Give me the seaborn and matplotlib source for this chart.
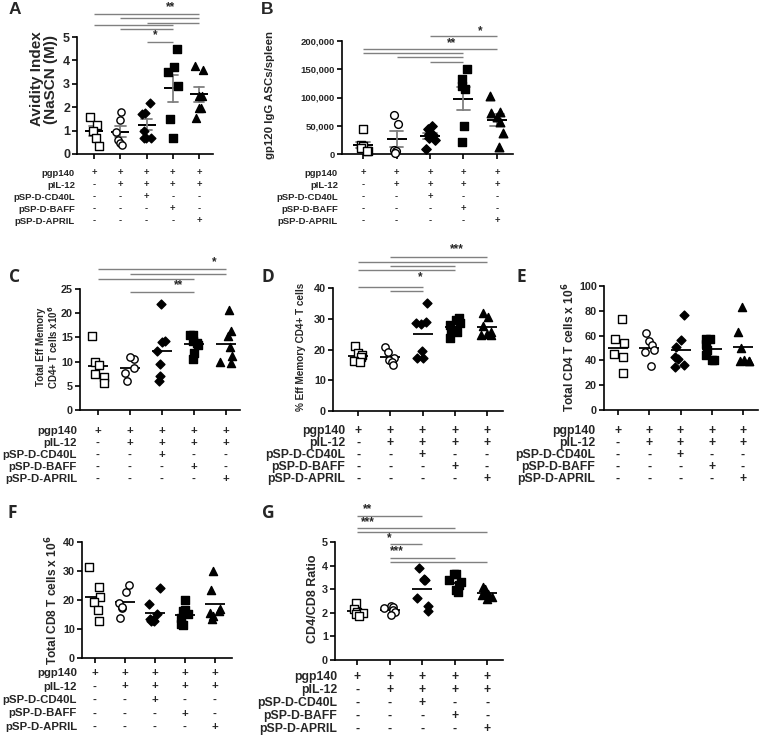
import numpy as np
import pandas as pd
import matplotlib
matplotlib.use("Agg")
import matplotlib.pyplot as plt
import matplotlib.transforms as mtransforms
import seaborn as sns
import warnings
warnings.filterwarnings("ignore")

sns.set_theme(style="ticks")
plt.rcParams['font.family'] = ['Liberation Sans', 'DejaVu Sans']
plt.rcParams['font.weight'] = 'bold'
plt.rcParams['axes.labelweight'] = 'bold'
plt.rcParams['mathtext.default'] = 'bf'

# ---------------- data ----------------
groups = ["pgp140", "pgp140+pIL-12", "+pSP-D-CD40L", "+pSP-D-BAFF", "+pSP-D-APRIL"]

table_rows = ["pgp140", "pIL-12", "pSP-D-CD40L", "pSP-D-BAFF", "pSP-D-APRIL"]
table_signs = [
    ["+", "+", "+", "+", "+"],
    ["-", "+", "+", "+", "+"],
    ["-", "-", "+", "-", "-"],
    ["-", "-", "-", "+", "-"],
    ["-", "-", "-", "-", "+"],
]

avidity_index = [
    [1.6, 1.25, 1.0, 0.7, 0.35],
    [1.8, 1.45, 0.95, 0.6, 0.45, 0.4],
    [2.2, 1.75, 1.72, 1.0, 0.7, 0.7, 0.7],
    [4.5, 3.5, 3.7, 2.9, 1.5, 0.7],
    [3.6, 3.75, 2.5, 2.5, 1.97, 1.97, 1.54],
]
asc_per_spleen = [
    [44000, 16000, 14000, 10000, 6000, 5000],
    [69000, 53000, 7000, 5000, 2000],
    [49000, 45000, 36000, 33000, 28000, 24000, 8000],
    [150000, 133000, 120000, 115000, 49000, 22000],
    [103000, 73000, 75000, 65000, 56000, 38000, 13000],
]
eff_mem_total = [
    [15.3, 10.0, 9.4, 7.5, 6.9, 5.6],
    [10.6, 10.9, 8.6, 7.6, 5.9],
    [21.8, 14.3, 14.1, 12.2, 9.6, 7.0, 6.0],
    [15.4, 15.5, 14.2, 13.9, 13.5, 11.7, 10.6],
    [20.6, 16.4, 15.2, 13.0, 11.1, 9.9, 9.8],
]
eff_mem_pct = [
    [21.3, 18.8, 18.3, 17.5, 16.3, 16.0],
    [20.8, 19.2, 17.1, 16.6, 15.8, 15.0],
    [35.0, 29.0, 28.6, 28.2, 19.6, 17.1, 17.1],
    [29.6, 30.2, 28.6, 28.0, 26.2, 25.8, 23.7],
    [32.0, 30.7, 27.5, 25.8, 24.7, 24.7, 25.0],
]
cd4_total = [
    [73.0, 54.0, 57.0, 45.5, 42.5, 30.0],
    [62.2, 55.8, 52.3, 48.3, 46.9, 35.4],
    [76.4, 56.3, 51.0, 42.4, 40.8, 36.2, 34.9],
    [57.6, 57.6, 53.6, 48.3, 44.2, 40.2, 40.2],
    [83.0, 63.0, 50.4, 40.5, 39.7, 39.7, 39.7],
]
cd8_total = [
    [31.5, 24.5, 21.0, 19.4, 16.7, 12.7],
    [22.6, 25.2, 19.1, 17.3, 17.6, 13.8],
    [24.0, 18.7, 15.2, 13.3, 13.0, 12.8, 12.7],
    [19.9, 16.7, 16.2, 15.2, 13.8, 11.7, 11.5],
    [30.1, 23.4, 17.0, 16.2, 15.5, 14.5, 13.3],
]
cd4_cd8_ratio = [
    [2.43, 2.15, 2.05, 2.0, 1.95, 1.85],
    [2.3, 2.25, 2.2, 2.1, 2.05, 1.9],
    [3.88, 3.42, 3.4, 3.4, 2.64, 2.3, 2.07],
    [3.63, 3.63, 3.39, 3.31, 3.17, 2.96, 2.89],
    [3.1, 3.0, 2.9, 2.8, 2.75, 2.65, 2.6],
]

# significance comparisons (group index pairs) and labels
sig_A = [(0, 4), (1, 4), (2, 4), (0, 3), (1, 3), (2, 3)]
stars_A = ["**", "*"]
sig_B = [(2, 4), (0, 4), (0, 3), (1, 3), (2, 3)]
stars_B = ["*", "**"]
sig_C = [(0, 4), (1, 4), (0, 3), (1, 3)]
stars_C = ["*", "**"]
sig_D = [(1, 4), (0, 4), (1, 3), (0, 3), (0, 2), (1, 2)]
stars_D = ["***", "*"]
sig_G = [(0, 2), (0, 3), (0, 4), (1, 2), (1, 3), (1, 4)]
stars_G = ["**", "***", "*", "***"]

# ---------------- style / layout ----------------
markers = ["s", "o", "D", "s", "^"]
faces = ["white", "white", "black", "black", "black"]
W, H = 760, 738
fig = plt.figure(figsize=(W / 100, H / 100), dpi=100)
fig.patch.set_facecolor("white")
LINE_GRAY = "#808080"
np.random.seed(7)  # deterministic horizontal jitter of the dots


def make_axes(left, right, top, bottom):
    return fig.add_axes([left / W, 1 - bottom / H, (right - left) / W, (bottom - top) / H])


def long_df(vals):
    return pd.DataFrame({
        "group": np.repeat(groups, [len(v) for v in vals]),
        "value": np.concatenate([np.asarray(v, float) for v in vals]),
    })


def draw_panel(ax, vals, yticks, yticklabels, xlim, tick_fs, err, msize=5.2, meanw=14, jit=0.2):
    df = long_df(vals)
    for g, m, fc in zip(groups, markers, faces):
        sub = df[df["group"] == g]
        ms = msize * (0.85 if m == "D" else 1.0) * (1.1 if m == "^" else 1.0)
        sns.stripplot(data=sub, x="group", y="value", order=groups, marker=m, jitter=jit,
                      color=fc, edgecolor="black", linewidth=1.0, size=ms, ax=ax, zorder=3)
    if err:
        sns.pointplot(data=df, x="group", y="value", order=groups, errorbar="se",
                      color="black", linestyle="none", marker="_", markersize=meanw,
                      markeredgewidth=1.4, capsize=0.4,
                      err_kws={"color": LINE_GRAY, "linewidth": 1.3}, ax=ax)
    else:
        sns.pointplot(data=df, x="group", y="value", order=groups, errorbar=None,
                      color="black", linestyle="none", marker="_", markersize=meanw,
                      markeredgewidth=1.3, ax=ax)
    ax.set_xlim(*xlim)
    ax.set_ylim(yticks[0], yticks[-1])
    ax.set_yticks(yticks)
    ax.set_yticklabels(yticklabels, fontsize=tick_fs, fontweight="bold")
    ax.set_xticks(range(len(groups)))
    ax.set_xticklabels([])
    ax.set_xlabel("")
    for s in ["top", "right"]:
        ax.spines[s].set_visible(False)
    for s in ["left", "bottom"]:
        ax.spines[s].set_linewidth(1.2)
        ax.spines[s].set_color("black")
    ax.tick_params(axis="both", direction="out", length=3.5, width=1.2, color="black", pad=1.5)
    ax.set_facecolor("none")
    for coll in ax.collections:
        coll.set_clip_on(False)


def set_ylabel(ax, text, fs, xfrac, yfrac):
    ax.set_ylabel(text, fontsize=fs, fontweight="bold", va="center", ha="center", linespacing=1.0)
    ax.yaxis.set_label_coords(xfrac, yfrac)


def draw_table(ax, label_right, y0, dy, fs):
    trans = mtransforms.blended_transform_factory(ax.transData, fig.transFigure)
    for r, (name, signs) in enumerate(zip(table_rows, table_signs)):
        y = 1 - (y0 + r * dy) / H
        fig.text(label_right / W, y, name, ha="right", va="center", fontsize=fs, fontweight="bold")
        for c, s in enumerate(signs):
            ax.text(c, y, s, transform=trans, ha="center", va="center", fontsize=fs,
                    fontweight="bold", clip_on=False)


def draw_sig(ax, pairs, levels, stars, star_pos, star_fs=8.5):
    trans = ax.get_xaxis_transform()
    for (i, j), lvl in zip(pairs, levels):
        ax.plot([i, j], [lvl, lvl], transform=trans, color=LINE_GRAY, lw=1.0,
                clip_on=False, solid_capstyle="butt")
    for s, (x, y) in zip(stars, star_pos):
        ax.text(x, y, s, transform=trans, ha="center", va="center", fontsize=star_fs,
                fontweight="bold", clip_on=False)


def letter(x, y, t, family=None):
    fig.text(x / W, 1 - y / H, t, ha="center", va="center", fontsize=12.5, fontweight="bold",
             family=family if family else ["Liberation Sans", "DejaVu Sans"])


# ---------------- Panel A ----------------
axA = make_axes(77, 213, 37, 154)
draw_panel(axA, avidity_index, [0, 1, 2, 3, 4, 5], ["0", "1", "2", "3", "4", "5"],
           (-0.65, 4.53), 9, True, msize=5.2, meanw=13)
set_ylabel(axA, "Avidity Index\n(NaSCN (M))", 11, -0.24, 0.64)
draw_sig(axA, sig_A, [1.197, 1.162, 1.12, 1.103, 1.068, 0.957], stars_A,
         [(2.92, 1.256), (2.32, 1.017)])
draw_table(axA, 75, 173, 12, 6.8)
letter(15, 9, "A")

# ---------------- Panel B ----------------
axB = make_axes(342, 513, 41, 154)
bt = [0, 50000, 100000, 150000, 200000]
draw_panel(axB, asc_per_spleen, bt, [f"{v:,}" for v in bt], (-0.63, 4.48), 6.8, True,
           msize=5.6, meanw=14)
set_ylabel(axB, "gp120 IgG ASCs/spleen", 8.2, -0.42, 0.52)
draw_sig(axB, sig_B, [1.044, 0.929, 0.894, 0.858, 0.814], stars_B,
         [(3.5, 1.088), (2.63, 0.982)])
draw_table(axB, 338, 173, 12, 6.8)
letter(267, 9, "B")

# ---------------- Panel C ----------------
axC = make_axes(80, 240, 289, 410)
draw_panel(axC, eff_mem_total, [0, 5, 10, 15, 20, 25], ["0", "5", "10", "15", "20", "25"],
           (-0.56, 4.44), 7.8, False, msize=5.3, meanw=15)
set_ylabel(axC, "Total Eff Memory\nCD4+ T cells x10$^6$", 7, -0.2, 0.52)
draw_sig(axC, sig_C, [1.165, 1.124, 1.083, 0.975], stars_C, [(3.63, 1.223), (2.53, 1.033)])
draw_table(axC, 77, 431, 12, 8.2)
letter(15, 277, "C", family=["Open Sans", "DejaVu Sans"])

# ---------------- Panel D ----------------
axD = make_axes(333, 503, 288, 411)
draw_panel(axD, eff_mem_pct, [0, 10, 20, 30, 40], ["0", "10", "20", "30", "40"],
           (-0.78, 4.5), 7.8, False, msize=5.3, meanw=15)
set_ylabel(axD, "% Eff Memory CD4+ T cells", 7.2, -0.19, 0.52)
draw_sig(axD, sig_D, [1.252, 1.211, 1.179, 1.146, 1.008, 0.976], stars_D,
         [(3.07, 1.317), (1.92, 1.089)])
draw_table(axD, 345, 431, 12, 8.8)
letter(268, 277, "D", family=["Open Sans", "DejaVu Sans"])

# ---------------- Panel E ----------------
axE = make_axes(604, 758, 286, 410)
draw_panel(axE, cd4_total, [0, 20, 40, 60, 80, 100], ["0", "20", "40", "60", "80", "100"],
           (-0.45, 4.48), 7.8, False, msize=5.3, meanw=15)
set_ylabel(axE, "Total CD4 T cells x 10$^6$", 8.6, -0.23, 0.51)
draw_table(axE, 595, 431, 12, 8.8)
letter(521, 277, "E", family=["Open Sans", "DejaVu Sans"])

# ---------------- Panel F ----------------
axF = make_axes(82, 232, 542, 658)
draw_panel(axF, cd8_total, [0, 10, 20, 30, 40], ["0", "10", "20", "30", "40"],
           (-0.43, 4.57), 7.8, False, msize=5.3, meanw=15)
set_ylabel(axF, "Total CD8 T cells x 10$^6$", 8.6, -0.2, 0.5)
draw_table(axF, 77, 673, 13.5, 8.2)
letter(12, 513, "F", family=["Open Sans", "DejaVu Sans"])

# ---------------- Panel G ----------------
axG = make_axes(335, 503, 542, 660)
draw_panel(axG, cd4_cd8_ratio, [0, 1, 2, 3, 4, 5], ["0", "1", "2", "3", "4", "5"],
           (-0.68, 4.49), 7.8, False, msize=5.3, meanw=15)
set_ylabel(axG, "CD4/CD8 Ratio", 9, -0.13, 0.52)
draw_sig(axG, sig_G, [1.22, 1.119, 1.085, 0.983, 0.864, 0.831], stars_G,
         [(0.31, 1.28), (0.34, 1.17), (1.0, 1.034), (1.23, 0.924)])
draw_table(axG, 337, 677, 13, 8.8)
letter(268, 513, "G", family=["Open Sans", "DejaVu Sans"])

fig.savefig("out.png", dpi=100, facecolor="white")
